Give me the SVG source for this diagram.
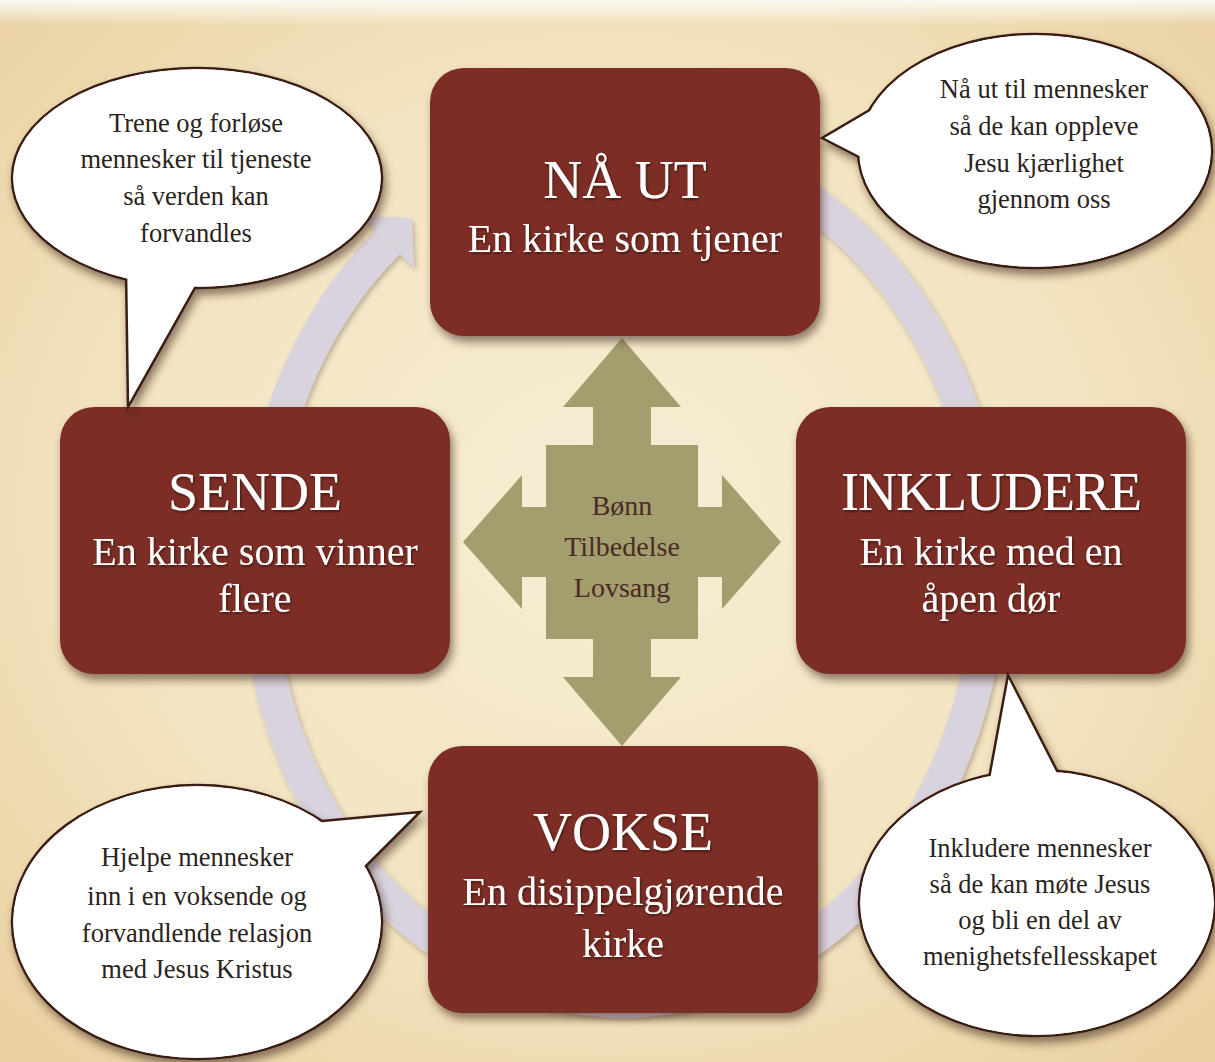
<svg xmlns="http://www.w3.org/2000/svg" width="1215" height="1062" viewBox="0 0 1215 1062">
<defs>
  <radialGradient id="bg" cx="50%" cy="48%" r="72%">
    <stop offset="0" stop-color="#f7edd5"/>
    <stop offset="0.55" stop-color="#f3e4c1"/>
    <stop offset="1" stop-color="#e9d09f"/>
  </radialGradient>
  <linearGradient id="topfade" x1="0" y1="0" x2="0" y2="1">
    <stop offset="0" stop-color="#fbf9f3"/>
    <stop offset="1" stop-color="#fbf9f3" stop-opacity="0"/>
  </linearGradient>
  <filter id="shadow" x="-10%" y="-10%" width="125%" height="130%">
    <feDropShadow dx="3" dy="6" stdDeviation="4" flood-color="#3b2412" flood-opacity="0.55"/>
  </filter>
  <filter id="soft" x="-10%" y="-10%" width="125%" height="125%">
    <feDropShadow dx="2" dy="3" stdDeviation="2.5" flood-color="#5a4a3a" flood-opacity="0.35"/>
  </filter>
  <filter id="tshadow" x="-5%" y="-20%" width="110%" height="150%">
    <feDropShadow dx="1" dy="1.5" stdDeviation="0.8" flood-color="#2a0a06" flood-opacity="0.7"/>
  </filter>
</defs>
<style>
  .box { fill:#7b2d26; }
  .title { font-family:"Liberation Serif", "Times New Roman", serif; font-size:54px; fill:#ffffff; text-anchor:middle; }
  .sub { font-size:40px; }
  .bub { fill:#ffffff; stroke:#3a1f12; stroke-width:2.5; }
  .bubfill { fill:#ffffff; stroke:none; }
  .btext { font-family:"Liberation Serif", "Times New Roman", serif; font-size:26.5px; fill:#2a2320; text-anchor:middle; }
  .ctext { font-family:"Liberation Serif", "Times New Roman", serif; font-size:28px; fill:#4b2a26; text-anchor:middle; }
  .ring { fill:none; stroke:#d9d3de; stroke-width:34; stroke-linecap:butt; }
  .ringhead { fill:#d9d3de; }
  .cross { fill:#a29e6d; }
</style>

<rect x="0" y="0" width="1215" height="1062" fill="url(#bg)"/>
<rect x="0" y="0" width="1215" height="26" fill="url(#topfade)"/>

<g id="connectors">
  <g id="cycle-arrow" filter="url(#soft)">
    <path class="ring" d="M 700 150 A 365 430 0 1 1 388 242"/>
    <polygon class="ringhead" points="414,268 412,218 361,216 389,243"/>
  </g>
  <g id="center-cross">
    <polygon class="cross" points="622,338 681,407 651,407 651,445 698,445 698,507 722,507 722,475 781,542 722,609 722,577 698,577 698,639 651,639 651,677 681,677 622,746 563,677 593,677 593,639 546,639 546,577 522,577 522,609 463,542 522,475 522,507 546,507 546,445 593,445 593,407 563,407"/>
    <text class="ctext" x="622" y="515">Bønn</text>
    <text class="ctext" x="622" y="556">Tilbedelse</text>
    <text class="ctext" x="622" y="597">Lovsang</text>
  </g>
</g>

<g id="node-naa-ut">
  <rect class="box" x="430" y="68" width="390" height="268" rx="34" filter="url(#shadow)"/>
  <g filter="url(#tshadow)">
    <text class="title" x="625" y="198">NÅ UT</text>
    <text class="title sub" x="625" y="252">En kirke som tjener</text>
  </g>
</g>

<g id="node-sende">
  <rect class="box" x="60" y="407" width="390" height="267" rx="34" filter="url(#shadow)"/>
  <g filter="url(#tshadow)">
    <text class="title" x="255" y="510">SENDE</text>
    <text class="title sub" x="255" y="565">En kirke som vinner</text>
    <text class="title sub" x="255" y="612">flere</text>
  </g>
</g>

<g id="node-inkludere">
  <rect class="box" x="796" y="407" width="390" height="267" rx="34" filter="url(#shadow)"/>
  <g filter="url(#tshadow)">
    <text class="title" x="991" y="510" letter-spacing="-1">INKLUDERE</text>
    <text class="title sub" x="991" y="565">En kirke med en</text>
    <text class="title sub" x="991" y="612">åpen dør</text>
  </g>
</g>

<g id="node-vokse">
  <rect class="box" x="428" y="746" width="390" height="267" rx="34" filter="url(#shadow)"/>
  <g filter="url(#tshadow)">
    <text class="title" x="623" y="850">VOKSE</text>
    <text class="title sub" x="623" y="905">En disippelgjørende</text>
    <text class="title sub" x="623" y="957">kirke</text>
  </g>
</g>

<g id="bubble-trene">
  <g filter="url(#shadow)">
    <ellipse class="bub" cx="197" cy="178" rx="185" ry="110"/>
    <polygon class="bub" points="126,270 128,407 205,270"/>
    <ellipse class="bubfill" cx="197" cy="178" rx="183.8" ry="108.8"/>
  </g>
  <text class="btext" x="196" y="132">Trene og forløse</text>
  <text class="btext" x="196" y="168">mennesker til tjeneste</text>
  <text class="btext" x="196" y="205">så verden kan</text>
  <text class="btext" x="196" y="242">forvandles</text>
</g>

<g id="bubble-naa-ut">
  <g filter="url(#shadow)">
    <ellipse class="bub" cx="1035" cy="151" rx="177" ry="117"/>
    <polygon class="bub" points="890,98 822,138 890,173"/>
    <ellipse class="bubfill" cx="1035" cy="151" rx="175.8" ry="115.8"/>
  </g>
  <text class="btext" x="1044" y="98">Nå ut til mennesker</text>
  <text class="btext" x="1044" y="135">så de kan oppleve</text>
  <text class="btext" x="1044" y="172">Jesu kjærlighet</text>
  <text class="btext" x="1044" y="208">gjennom oss</text>
</g>

<g id="bubble-hjelpe">
  <g filter="url(#shadow)">
    <ellipse class="bub" cx="197" cy="922" rx="185" ry="137"/>
    <polygon class="bub" points="300,823 420,812 340,892"/>
    <ellipse class="bubfill" cx="197" cy="922" rx="183.8" ry="135.8"/>
  </g>
  <text class="btext" x="197" y="866">Hjelpe mennesker</text>
  <text class="btext" x="197" y="905">inn i en voksende og</text>
  <text class="btext" x="197" y="942">forvandlende relasjon</text>
  <text class="btext" x="197" y="978">med Jesus Kristus</text>
</g>

<g id="bubble-inkludere">
  <g filter="url(#shadow)">
    <ellipse class="bub" cx="1037" cy="903" rx="178" ry="133"/>
    <polygon class="bub" points="985,800 1008,675 1072,800"/>
    <ellipse class="bubfill" cx="1037" cy="903" rx="176.8" ry="131.8"/>
  </g>
  <text class="btext" x="1040" y="857">Inkludere mennesker</text>
  <text class="btext" x="1040" y="893">så de kan møte Jesus</text>
  <text class="btext" x="1040" y="929">og bli en del av</text>
  <text class="btext" x="1040" y="965">menighetsfellesskapet</text>
</g>
</svg>
